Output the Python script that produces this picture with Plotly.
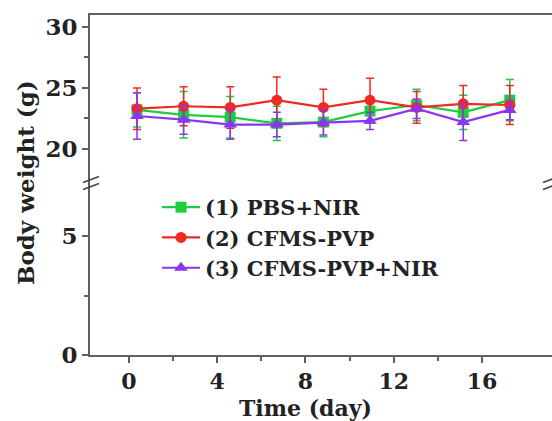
import plotly.graph_objects as go

# Body weight of mice over the treatment period (mean ± SD)
days = [0, 2, 4, 6, 8, 10, 12, 14, 16]

pbs_nir = [23.2, 22.8, 22.6, 22.1, 22.2, 23.1, 23.6, 23.0, 24.0]
pbs_nir_sd = [1.4, 1.9, 1.7, 1.4, 1.2, 1.0, 1.3, 1.4, 1.7]

cfms_pvp = [23.3, 23.5, 23.4, 24.0, 23.4, 24.0, 23.4, 23.7, 23.6]
cfms_pvp_sd = [1.7, 1.6, 1.7, 1.9, 1.5, 1.8, 1.3, 1.5, 1.6]

cfms_pvp_nir = [22.7, 22.4, 22.0, 22.0, 22.15, 22.3, 23.3, 22.2, 23.2]
cfms_pvp_nir_sd = [1.9, 1.2, 1.2, 1.0, 1.0, 0.7, 0.8, 1.5, 0.8]

names = ["(1) PBS+NIR", "(2) CFMS-PVP", "(3) CFMS-PVP+NIR"]
colors = ["#1fcc3f", "#ee2a24", "#8a35f0"]
symbols = ["square", "circle", "triangle-up"]
means = [pbs_nir, cfms_pvp, cfms_pvp_nir]
sds = [pbs_nir_sd, cfms_pvp_sd, cfms_pvp_nir_sd]

W, H = 552, 421
L, R, T, B = 90, 0, 15, 66
plot_w = W - L - R
plot_h = H - T - B
brk = 0.506  # vertical position of the axis break (paper units)

FONT = "DejaVu Serif"
AX = "#606060"

fig = go.Figure()
for name, c, s, m, e in zip(names, colors, symbols, means, sds):
    fig.add_trace(go.Scatter(
        x=days, y=m, name=name, xaxis="x2", yaxis="y2",
        mode="lines+markers",
        line=dict(color=c, width=2.2),
        marker=dict(symbol=s, size=11 if s != "triangle-up" else 12, color=c),
        error_y=dict(type="data", array=e, color=c, thickness=1.5, width=4),
    ))

# empty trace so the lower (0–7 g) panel axes are rendered
fig.add_trace(go.Scatter(x=[None], y=[None], xaxis="x", yaxis="y",
                         showlegend=False, hoverinfo="skip"))


def px_x(px):
    return (px - L) / plot_w


def px_y(py):
    return (H - B - py) / plot_h


tick_font = dict(family=FONT, size=23, color="#222222", weight="bold")
xtick_font = dict(family=FONT, size=22, color="#222222", weight="bold")

fig.update_layout(
    width=W, height=H,
    margin=dict(l=L, r=R, t=T, b=B),
    paper_bgcolor="white", plot_bgcolor="white",
    showlegend=True,
    legend=dict(
        x=px_x(157), y=px_y(187), xanchor="left", yanchor="top",
        bgcolor="rgba(0,0,0,0)",
        font=dict(family=FONT, size=21, color="#222222", weight="bold"),
        itemwidth=38, tracegroupgap=0,
    ),
    # lower panel: time axis and 0–7 g segment
    xaxis=dict(
        domain=[0, 1], anchor="y", range=[-1.768, 19.175],
        tickvals=[0, 4, 8, 12, 16], ticks="outside", ticklen=6, tickwidth=2,
        tickcolor=AX, showline=True, linecolor=AX, linewidth=2,
        showgrid=False, zeroline=False, tickfont=xtick_font,
        minor=dict(tickvals=[2, 6, 10, 14], ticks="outside", ticklen=4,
                   tickwidth=1.5, tickcolor=AX, showgrid=False),
    ),
    yaxis=dict(
        domain=[0, brk], anchor="x", range=[0, 7.23],
        tickvals=[0, 5], ticks="outside", ticklen=6, tickwidth=2,
        tickcolor=AX, showline=True, linecolor=AX, linewidth=2,
        showgrid=False, zeroline=False, tickfont=tick_font,
        minor=dict(tickvals=[2.5], ticks="outside", ticklen=4,
                   tickwidth=1.5, tickcolor=AX, showgrid=False),
    ),
    # upper panel: 17–31 g segment holding the data
    xaxis2=dict(
        domain=[0, 1], anchor="y2", side="top", range=[-2.017, 17.81],
        showline=True, linecolor=AX, linewidth=2, ticks="",
        showticklabels=False, showgrid=False, zeroline=False,
    ),
    yaxis2=dict(
        domain=[brk, 1], anchor="x2", range=[17.21, 30.98],
        tickvals=[20, 25, 30], ticks="outside", ticklen=6, tickwidth=2,
        tickcolor=AX, showline=True, linecolor=AX, linewidth=2,
        showgrid=False, zeroline=False, tickfont=tick_font,
        minor=dict(tickvals=[22.5, 27.5], ticks="outside", ticklen=4,
                   tickwidth=1.5, tickcolor=AX, showgrid=False),
    ),
)

# axis-break marks on the left and right edges
for cx in (91, 551):
    for dy in (-3.5, 3.5):
        fig.add_shape(
            type="line", xref="paper", yref="paper",
            x0=px_x(cx - 8), y0=px_y(183 + dy + 3),
            x1=px_x(cx + 8), y1=px_y(183 + dy - 3),
            line=dict(color="#444444", width=1.6),
        )

fig.add_annotation(
    text="Body weight (g)", textangle=-90, showarrow=False,
    xref="paper", yref="paper", x=px_x(25), y=px_y(183),
    xanchor="center", yanchor="middle",
    font=dict(family=FONT, size=23, color="#222222", weight="bold"),
)
fig.add_annotation(
    text="Time (day)", showarrow=False,
    xref="paper", yref="paper", x=px_x(305), y=px_y(408),
    xanchor="center", yanchor="middle",
    font=dict(family=FONT, size=22, color="#222222", weight="bold"),
)

fig.write_html("out.html")
